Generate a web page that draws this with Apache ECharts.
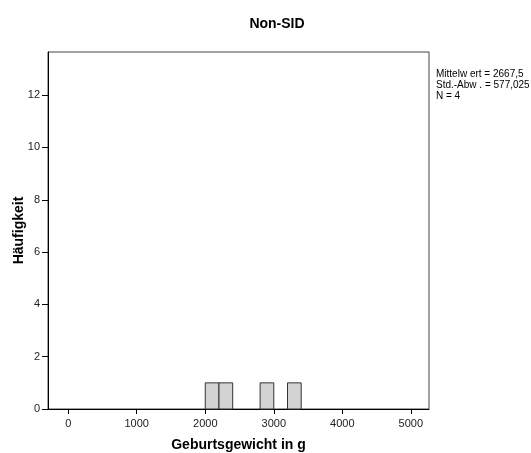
<!DOCTYPE html>
<html><head><meta charset="utf-8">
<script src="https://cdn.jsdelivr.net/npm/echarts@6/dist/echarts.min.js"></script>
<style>html,body{margin:0;padding:0;background:#fff}#c{width:531px;height:453px}</style>
</head><body><div id="c"></div>
<script>
const binStart = [2000, 2200, 2800, 3200];
const binEnd = [2200, 2400, 3000, 3400];
const counts = [1, 1, 1, 1];
const xTicks = [0, 1000, 2000, 3000, 4000, 5000];
const yTicks = [0, 2, 4, 6, 8, 10, 12];
const statsLines = ['Mittelw ert = 2667,5', 'Std.-Abw . = 577,025', 'N = 4'];

const data = binStart.map((s, i) => [s, binEnd[i], counts[i]]);
const chart = echarts.init(document.getElementById('c'), null, {renderer: 'canvas'});
const font = 'Liberation Sans, Arial, sans-serif';
chart.setOption({
  animation: false,
  title: {text: 'Non-SID', left: 272, top: 12, textAlign: 'center',
    textStyle: {fontFamily: font, fontSize: 14, fontWeight: 'bold', color: '#000'}},
  grid: {left: 48, top: 52, right: 102, bottom: 44, show: true, borderColor: '#444', borderWidth: 1,
    backgroundColor: '#fff', outerBoundsMode: 'none', containLabel: false},
  xAxis: {type: 'value', min: -295, max: 5265,
    name: 'Geburtsgewicht in g', nameLocation: 'middle', nameGap: 29,
    nameTextStyle: {fontFamily: font, fontSize: 14, fontWeight: 'bold', color: '#000'},
    axisLine: {show: true, onZero: false, lineStyle: {color: '#000', width: 1}},
    axisTick: {show: true, length: 5, lineStyle: {color: '#000'}, customValues: xTicks},
    axisLabel: {fontFamily: font, fontSize: 11, color: '#222', margin: 9, customValues: xTicks,
      formatter: v => String(v)},
    splitLine: {show: false}},
  yAxis: {type: 'value', min: 0, max: 13.65,
    name: 'Häufigkeit', nameLocation: 'middle', nameGap: 22, nameRotate: 90, nameMoveOverlap: false,
    nameTextStyle: {fontFamily: font, fontSize: 14, fontWeight: 'bold', color: '#000'},
    axisLine: {show: true, onZero: false, lineStyle: {color: '#000', width: 1}},
    axisTick: {show: true, length: 6, lineStyle: {color: '#000'}, customValues: yTicks},
    axisLabel: {fontFamily: font, fontSize: 11, color: '#222', margin: 8, customValues: yTicks,
      formatter: v => String(v)},
    splitLine: {show: false}},
  graphic: [{type: 'text', left: 436, top: 69,
    style: {text: statsLines.join('\n'), font: '10px ' + font, fill: '#000', lineHeight: 11}}],
  series: [{type: 'custom', data: data,
    renderItem: function (params, api) {
      const p0 = api.coord([api.value(0), 0]);
      const p1 = api.coord([api.value(1), api.value(2)]);
      return {type: 'rect',
        shape: {x: p0[0], y: p1[1], width: p1[0] - p0[0], height: p0[1] - p1[1]},
        style: {fill: '#d3d3d3', stroke: '#333', lineWidth: 1}};
    },
    encode: {x: [0, 1], y: 2}}]
});
</script></body></html>
